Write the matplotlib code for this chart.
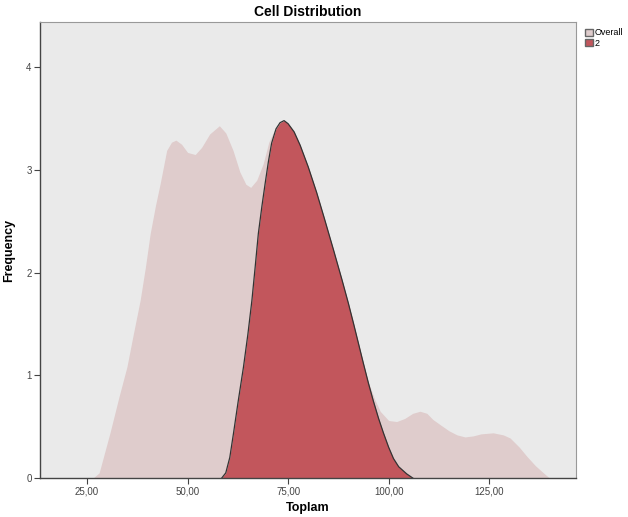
import matplotlib
matplotlib.use("Agg")
import matplotlib.pyplot as plt
from matplotlib.patches import Patch

plt.rcParams["font.family"] = ["Liberation Sans", "DejaVu Sans"]

# density (Toplam value, frequency)
overall_x = [26.5, 28, 30.7, 33, 34.9, 36.5, 38.2, 39.5, 40.7, 42, 43.2, 44.8, 46, 47.1,
             48.5, 50, 51.9, 53.5, 55.5, 57.9, 59.5, 61.3, 63, 64.5, 65.7, 67.2, 68.8,
             70.2, 71.5, 73, 75, 78, 82, 86, 89, 91.5, 93.5, 95, 96.5, 97.9, 100, 102,
             104, 106, 107.8, 109.5, 111, 112.8, 115, 117, 119, 121, 123, 126, 128.5,
             130.2, 132.5, 134.4, 136.5, 138.5, 140]
overall_y = [0, 0.05, 0.44, 0.80, 1.08, 1.40, 1.73, 2.05, 2.38, 2.65, 2.87, 3.19, 3.27, 3.29,
             3.25, 3.17, 3.15, 3.22, 3.35, 3.43, 3.36, 3.19, 2.98, 2.86, 2.83, 2.90, 3.06,
             3.27, 3.38, 3.42, 3.38, 3.05, 2.65, 2.10, 1.70, 1.32, 1.07, 0.93, 0.77, 0.65,
             0.56, 0.55, 0.58, 0.63, 0.65, 0.63, 0.57, 0.52, 0.46, 0.42, 0.40, 0.41, 0.43,
             0.44, 0.42, 0.39, 0.30, 0.21, 0.12, 0.05, 0.0]

group2_x = [58.5, 59.5, 60.5, 61.4, 62.6, 63.9, 65, 66, 66.8, 67.6, 68.5, 69.3, 70.1, 70.9,
            72, 73, 74, 75, 76.5, 78, 80, 82.1, 84, 86.3, 88.4, 90, 91.3, 92.5, 93.7, 95,
            96.2, 97.5, 98.7, 100, 101.2, 102.5, 104.5, 106]
group2_y = [0, 0.05, 0.20, 0.43, 0.75, 1.08, 1.40, 1.73, 2.05, 2.38, 2.65, 2.87, 3.08, 3.26,
            3.40, 3.46, 3.48, 3.45, 3.37, 3.24, 3.03, 2.78, 2.53, 2.22, 1.93, 1.70, 1.50,
            1.31, 1.12, 0.92, 0.75, 0.58, 0.44, 0.30, 0.19, 0.11, 0.04, 0.0]

x_ticks = [25, 50, 75, 100, 125]
x_labels = ["25,00", "50,00", "75,00", "100,00", "125,00"]
y_ticks = [0, 1, 2, 3, 4]

overall_color = "#dfcccc"
group_color = "#c2565c"

fig = plt.figure(figsize=(6.28, 5.17), dpi=100)
ax = fig.add_axes([0.0637, 0.0754, 0.8535, 0.882])
ax.set_facecolor("#eaeaea")

ax.fill_between(overall_x, overall_y, color=overall_color, lw=0)
ax.fill_between(group2_x, group2_y, color=group_color, lw=0)
ax.plot(group2_x, group2_y, color="#333333", lw=0.9, solid_joinstyle="round")

ax.set_xlim(13.3, 146.6)
ax.set_ylim(0, 4.44)
ax.set_xticks(x_ticks)
ax.set_xticklabels(x_labels)
ax.set_yticks(y_ticks)
ax.tick_params(labelsize=7, colors="#444444", length=4, width=0.8, pad=2)

for side in ["left", "bottom"]:
    ax.spines[side].set_color("#444444")
    ax.spines[side].set_linewidth(1.0)
for side in ["top", "right"]:
    ax.spines[side].set_color("#999999")
    ax.spines[side].set_linewidth(0.8)

ax.set_title("Cell Distribution", fontsize=10, fontweight="bold", pad=4)
ax.set_xlabel("Toplam", fontsize=9, fontweight="bold", labelpad=4)
ax.set_ylabel("Frequency", fontsize=9, fontweight="bold", labelpad=8)

handles = [Patch(facecolor=overall_color, edgecolor="#666666", label="Overall"),
           Patch(facecolor=group_color, edgecolor="#666666", label="2")]
fig.legend(handles=handles, loc="upper left", bbox_to_anchor=(0.925, 0.952),
           frameon=False, fontsize=6.5, handlelength=0.9, handleheight=0.9,
           handletextpad=0.2, labelspacing=0.15, borderaxespad=0)

fig.savefig("out.png", dpi=100)
